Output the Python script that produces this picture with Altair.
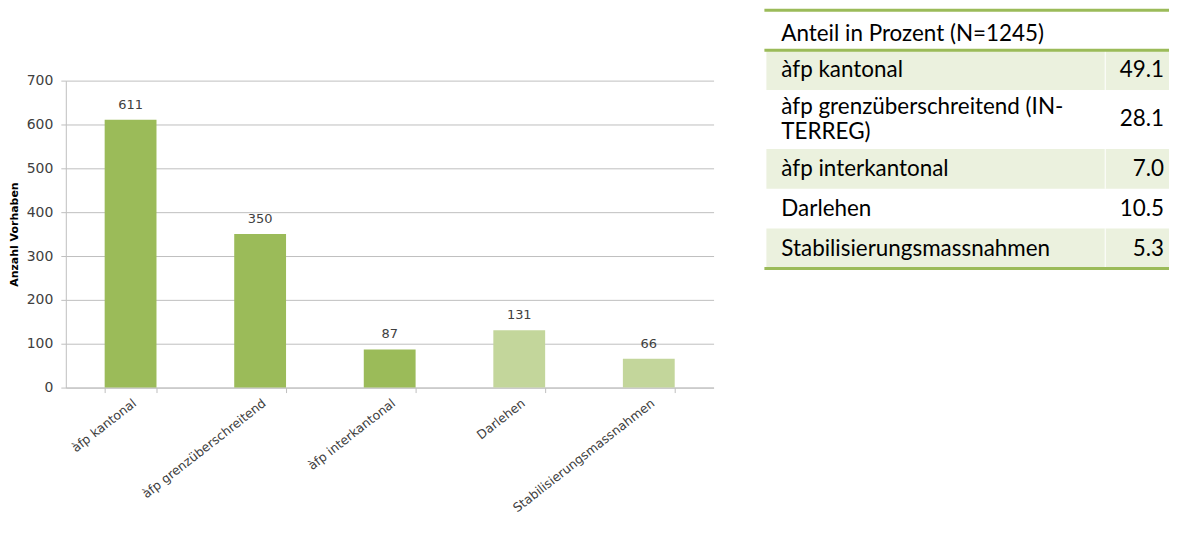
import altair as alt
import pandas as pd

# ---- data ----
categories = ["àfp kantonal", "àfp grenzüberschreitend", "àfp interkantonal",
              "Darlehen", "Stabilisierungsmassnahmen"]
counts = [611, 350, 87, 131, 66]
groups = ["àfp", "àfp", "àfp", "Andere", "Andere"]
y_ticks = [0, 100, 200, 300, 400, 500, 600, 700]

table_header = "Anteil in Prozent (N=1245)"
table_labels = ["àfp kantonal", "àfp grenzüberschreitend (IN-\nTERREG)",
                "àfp interkantonal", "Darlehen", "Stabilisierungsmassnahmen"]
table_values = [49.1, 28.1, 7.0, 10.5, 5.3]
table_shaded = [True, False, True, False, True]

# ---- styling / layout ----
DARK = "#9BBB59"
LIGHT = "#C3D69B"
SHADE = "#EBF1DE"
GRID = "#BFBFBF"
FONT = "DejaVu Sans"
TFONT = "Lato"
TSIZE = 22.5
LINE_H = 25

PLOT_W, PLOT_H = 650, 308
TAB_W = 406
T0 = 1.5
HEADER_H = 40
ROW_H = 40
EXTRA_LINE = 19

# ---- bar chart ----
df = pd.DataFrame({"category": categories, "count": counts, "group": groups})

x_axis = alt.Axis(title=None, labelAngle=-38, tickBand="extent",
                  labelFont=FONT, labelFontSize=12.5, labelColor="#404040",
                  labelLimit=0, domainColor=GRID, tickColor=GRID, tickSize=5,
                  labelPadding=4, grid=False)
y_axis = alt.Axis(values=y_ticks, title="Anzahl Vorhaben",
                  titleFont=FONT, titleFontSize=11, titleFontWeight="bold",
                  titleColor="#000000", titlePadding=7,
                  labelFont=FONT, labelFontSize=14, labelColor="#404040",
                  labelPadding=8, tickSize=5, tickColor=GRID,
                  domainColor=GRID, gridColor=GRID)
x_enc = alt.X("category:N", sort=categories,
              scale=alt.Scale(paddingInner=0.6, paddingOuter=0.3), axis=x_axis)
y_enc = alt.Y("count:Q", scale=alt.Scale(domain=[0, 700]), axis=y_axis)

bars = alt.Chart(df).mark_bar().encode(
    x=x_enc, y=y_enc,
    color=alt.Color("group:N", scale=alt.Scale(domain=["àfp", "Andere"], range=[DARK, LIGHT]),
                    legend=None),
)
labels = alt.Chart(df).mark_text(baseline="bottom", dy=-8, font=FONT, fontSize=13,
                                 color="#404040").encode(
    x=x_enc, y=y_enc, text=alt.Text("count:Q"),
)
bar_chart = alt.layer(bars, labels).properties(width=PLOT_W, height=PLOT_H)

spacer = alt.Chart(pd.DataFrame({"v": [0]})).mark_rect(opacity=0).encode(
    x=alt.X("v:Q", axis=None), y=alt.Y("v:Q", axis=None)
).properties(width=PLOT_W, height=65)

left = alt.vconcat(spacer, bar_chart, spacing=0)

# ---- table ----
rows, text_rows = [], []
y = T0 + HEADER_H
for lab, val, sh in zip(table_labels, table_values, table_shaded):
    parts = lab.split("\n")
    nl = len(parts)
    h = ROW_H + EXTRA_LINE * (nl - 1)
    mid = y + h / 2
    rows.append({"value": f"{val:.1f}", "shaded": sh, "top": y, "bottom": y + h, "mid": mid})
    for i, p in enumerate(parts):
        text_rows.append({"text": p, "ytext": mid + (i - (nl - 1) / 2) * LINE_H})
    y += h
TAB_H = y + T0
tdf = pd.DataFrame(rows)
ldf = pd.DataFrame(text_rows)
ysc = alt.Scale(domain=[0, TAB_H], reverse=True)

shade = alt.Chart(tdf[tdf["shaded"]]).mark_rect(color=SHADE).encode(
    x=alt.value(2), x2=alt.value(TAB_W),
    y=alt.Y("top:Q", scale=ysc, axis=None), y2="bottom:Q")
sep = alt.Chart(tdf).mark_rule(color="white", strokeWidth=1).encode(
    x=alt.value(342),
    y=alt.Y("top:Q", scale=ysc, axis=None), y2="bottom:Q")
line_df = pd.DataFrame({"y": [T0, T0 + HEADER_H, y]})
lines = alt.Chart(line_df).mark_rule(color=DARK, strokeWidth=3).encode(
    x=alt.value(0), x2=alt.value(TAB_W),
    y=alt.Y("y:Q", scale=ysc, axis=None))
head_df = pd.DataFrame({"text": [table_header], "mid": [T0 + HEADER_H / 2 + 4]})
head = alt.Chart(head_df).mark_text(align="left", baseline="middle", font=TFONT,
                                    fontSize=TSIZE, color="#000000").encode(
    x=alt.value(17), y=alt.Y("mid:Q", scale=ysc, axis=None), text="text:N")
tlab = alt.Chart(ldf).mark_text(align="left", baseline="middle", font=TFONT, fontSize=TSIZE,
                                color="#000000").encode(
    x=alt.value(17), y=alt.Y("ytext:Q", scale=ysc, axis=None), text="text:N")
tval = alt.Chart(tdf).mark_text(align="right", baseline="middle", font=TFONT, fontSize=TSIZE,
                                color="#000000").encode(
    x=alt.value(TAB_W - 5), y=alt.Y("mid:Q", scale=ysc, axis=None), text="value:N")

table = alt.layer(shade, sep, lines, head, tlab, tval).properties(width=TAB_W, height=TAB_H)

chart = alt.hconcat(left, table, spacing=49).properties(
    padding={"left": 0, "top": 0, "right": 0, "bottom": 0}, background="white"
).configure_view(strokeWidth=0).configure_concat(spacing=0)

chart.save("out.html", embed_options={"renderer": "svg", "actions": False})
